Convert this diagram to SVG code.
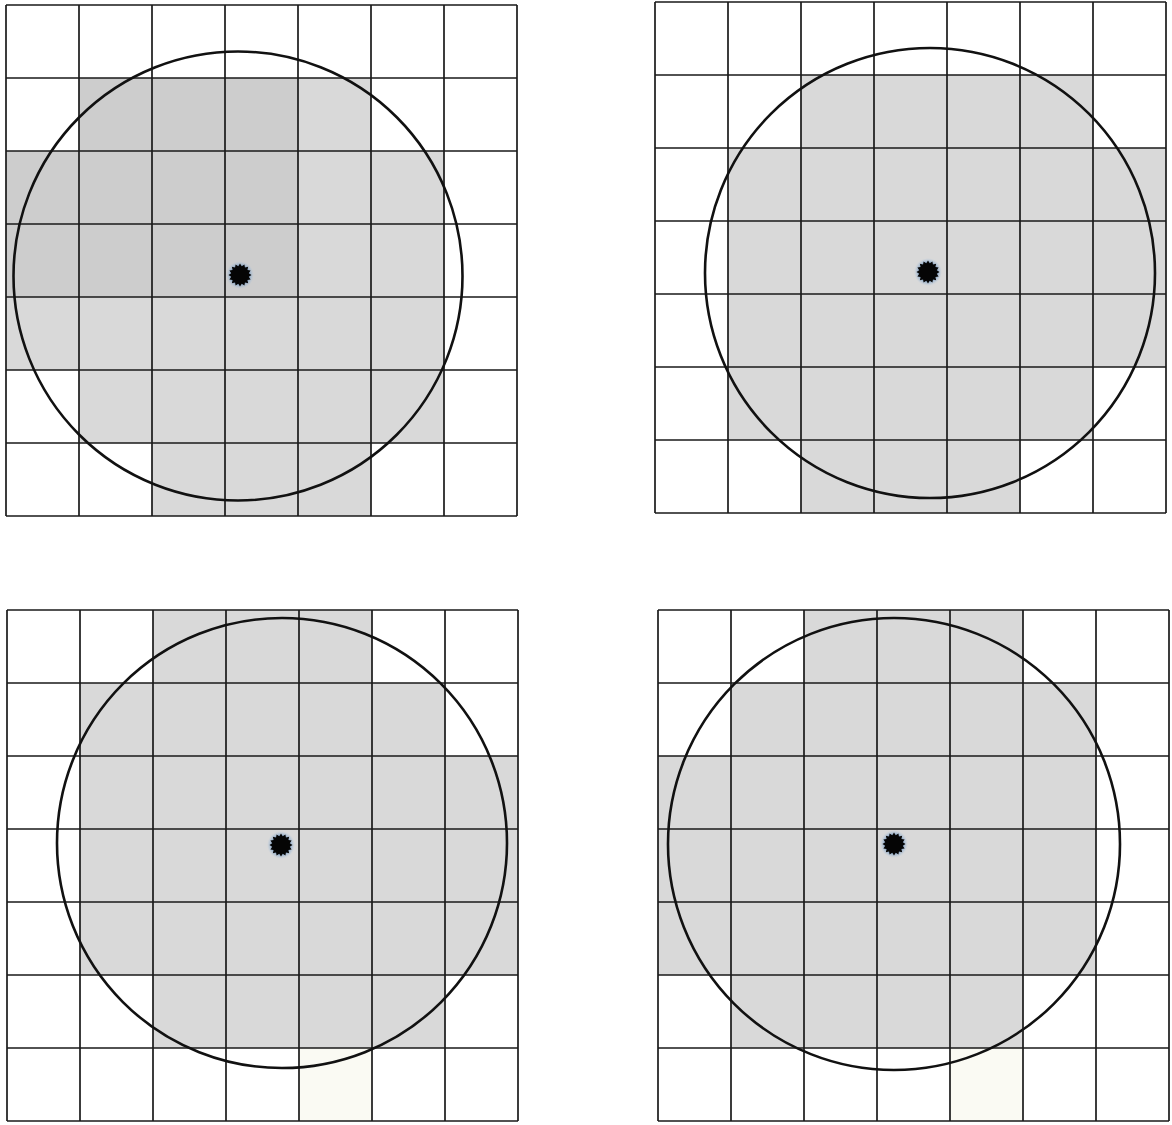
<svg xmlns="http://www.w3.org/2000/svg" width="1172" height="1125" viewBox="0 0 1172 1125">
<style>
.grid{fill:none;stroke:#1a1a1a;stroke-width:1.7}
.ring{fill:none;stroke:#111;stroke-width:2.6}
.d{fill:#cdcdcd}
.l{fill:#d9d9d9}
.f{fill:#fafaf3}
</style>
<defs>
<path id="g" class="grid" d="M0 0V511M73 0V511M146 0V511M219 0V511M292 0V511M365 0V511M438 0V511M511 0V511M0 0H511M0 73H511M0 146H511M0 219H511M0 292H511M0 365H511M0 438H511M0 511H511"/>
<radialGradient id="halo">
<stop offset="0.6" stop-color="#6b8fb8" stop-opacity="0.9"/>
<stop offset="1" stop-color="#a9c4e0" stop-opacity="0"/>
</radialGradient>
<g id="dot">
<circle r="14" fill="url(#halo)"/>
<polygon fill="#050505" points="11.5,0 8.8,1.75 10.6,4.4 7.4,4.95 8.15,8.15 4.95,7.4 4.4,10.6 1.75,8.8 0,11.5 -1.75,8.8 -4.4,10.6 -4.95,7.4 -8.15,8.15 -7.4,4.95 -10.6,4.4 -8.8,1.75 -11.5,0 -8.8,-1.75 -10.6,-4.4 -7.4,-4.95 -8.15,-8.15 -4.95,-7.4 -4.4,-10.6 -1.75,-8.8 0,-11.5 1.75,-8.8 4.4,-10.6 4.95,-7.4 8.15,-8.15 7.4,-4.95 10.6,-4.4 8.8,-1.75"/>
</g>
</defs>
<rect width="1172" height="1125" fill="#fff"/>

<g id="panel-top-left" transform="translate(6,5)">
<rect class="d" x="73" y="73" width="219" height="73"/>
<rect class="d" x="0" y="146" width="292" height="146"/>
<rect class="l" x="292" y="73" width="73" height="73"/>
<rect class="l" x="292" y="146" width="146" height="146"/>
<rect class="l" x="0" y="292" width="438" height="73"/>
<rect class="l" x="73" y="365" width="365" height="73"/>
<rect class="l" x="146" y="438" width="219" height="73"/>
<use href="#g"/>
<circle class="ring" cx="232" cy="271" r="224.5"/>
<use href="#dot" x="234" y="270"/>
</g>

<g id="panel-top-right" transform="translate(655,2)">
<rect class="l" x="146" y="73" width="292" height="73"/>
<rect class="l" x="73" y="146" width="438" height="219"/>
<rect class="l" x="73" y="365" width="365" height="73"/>
<rect class="l" x="146" y="438" width="219" height="73"/>
<use href="#g"/>
<circle class="ring" cx="275" cy="271" r="225"/>
<use href="#dot" x="273" y="270"/>
</g>

<g id="panel-bottom-left" transform="translate(7,610)">
<rect class="l" x="146" y="0" width="219" height="73"/>
<rect class="l" x="73" y="73" width="365" height="73"/>
<rect class="l" x="73" y="146" width="438" height="219"/>
<rect class="l" x="146" y="365" width="292" height="73"/>
<rect class="f" x="292" y="438" width="73" height="73"/>
<use href="#g"/>
<circle class="ring" cx="275" cy="233" r="225"/>
<use href="#dot" x="274" y="235"/>
</g>

<g id="panel-bottom-right" transform="translate(658,610)">
<rect class="l" x="146" y="0" width="219" height="73"/>
<rect class="l" x="73" y="73" width="365" height="73"/>
<rect class="l" x="0" y="146" width="438" height="219"/>
<rect class="l" x="73" y="365" width="292" height="73"/>
<rect class="f" x="292" y="438" width="73" height="73"/>
<use href="#g"/>
<circle class="ring" cx="236" cy="234" r="226"/>
<use href="#dot" x="236" y="234"/>
</g>
</svg>
